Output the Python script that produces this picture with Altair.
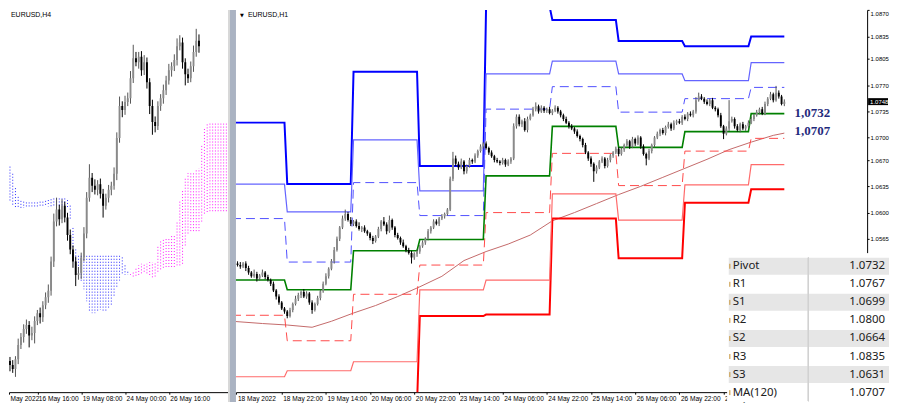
import altair as alt
import pandas as pd

# ---------------- right panel: EURUSD H1 (prices in pips over 1.0000) ----------------
h1_first_t = 6
h1_open_first = 532
h1_close = [
    530, 528, 532, 526,
    520, 515, 518, 512, 516, 520, 514, 510,
    505, 496, 488, 480, 472, 468,
    462,
    470, 478, 485, 490, 494, 488, 492, 480, 470, 478, 486,
    495, 505, 515, 525, 535,
    550, 565, 580, 592, 598,
    590, 585, 588, 582, 578, 580, 575, 572,
    566, 562, 568,
    578, 588, 584, 575, 590, 580,
    570, 566, 560, 555, 550, 546,
    540, 545, 548,
    555, 560, 565, 575, 580, 588,
    585, 592, 595, 598, 604,
    645, 672, 665,
    660, 668, 655,
    662, 670, 668, 676, 682, 688, 692,
    686, 680, 675, 670, 668,
    666, 670, 664, 668, 672,
    715, 728,
    718, 722, 710, 725, 730,
    738, 742, 735, 740, 736,
    738, 733, 736, 740, 735, 730,
    725, 720, 715, 712, 708, 702, 698,
    690, 680, 672, 665, 655, 660, 668,
    672, 662, 670, 676,
    680, 685, 678, 684,
    690, 695, 688, 698, 692, 700,
    688, 678, 672, 682, 690,
    700, 705, 710, 706, 714, 718, 712, 720, 722,
    720, 728, 725, 732, 730, 735,
    750, 755,
    752, 748, 745, 750, 740, 738,
    730, 715, 705,
    712, 722, 725,
    715, 710, 718, 712, 715, 720,
    725, 730, 734, 738, 732,
    745, 752, 758, 750, 760, 755, 745, 748,
]
h1_wick_up = [
    3, 4, 2, 3,
    3, 2, 6, 3, 2, 4, 2, 3,
    2, 3, 2, 3, 2, 2,
    2,
    3, 2, 4, 3, 2, 4, 3, 2, 3, 2, 3,
    2, 3, 4, 2, 3,
    4, 3, 2, 4, 6,
    3, 4, 2, 3, 5, 2, 3, 2,
    2, 3, 2,
    3, 2, 6, 3, 6, 2,
    2, 3, 2, 4, 2, 3,
    3, 2, 3,
    2, 3, 2, 3, 2, 3,
    3, 2, 3, 2, 2,
    3, 9, 4,
    3, 4, 2,
    2, 3, 2, 3, 2, 3, 2,
    3, 2, 3, 2, 3,
    2, 3, 2, 3, 2,
    4, 3,
    3, 2, 4, 3, 2,
    3, 5, 2, 3, 2,
    2, 3, 2, 3, 2, 2,
    2, 3, 2, 3, 2, 3, 2,
    2, 3, 2, 3, 2, 3, 2,
    3, 2, 3, 2,
    2, 3, 2, 3,
    2, 3, 2, 3, 2, 3,
    2, 3, 2, 3, 2,
    2, 3, 2, 3, 2, 3, 2, 3, 2,
    3, 2, 3, 2, 3, 2,
    4, 5,
    3, 2, 3, 2, 3, 2,
    2, 3, 2,
    3, 28, 3,
    2, 3, 2, 3, 2, 3,
    3, 2, 3, 2, 3,
    3, 2, 3, 2, 9, 3, 2, 3,
]
h1_wick_dn = [
    2, 3, 2, 4,
    3, 2, 2, 4, 3, 2, 3, 2,
    3, 2, 4, 3, 2, 3,
    3,
    2, 3, 2, 3, 4, 2, 3, 3, 5, 2, 2,
    3, 2, 2, 3, 2,
    3, 2, 3, 2, 3,
    2, 3, 3, 2, 2, 4, 2, 3,
    3, 4, 2,
    2, 3, 2, 4, 2, 3,
    3, 2, 3, 2, 3, 2,
    8, 3, 4,
    3, 2, 3, 2, 3, 2,
    2, 3, 2, 3, 2,
    2, 3, 3,
    3, 2, 4,
    3, 2, 3, 2, 3, 2, 3,
    2, 3, 2, 3, 2,
    3, 2, 3, 2, 3,
    2, 3,
    3, 4, 2, 3, 2,
    2, 3, 3, 2, 3,
    3, 2, 3, 2, 3, 3,
    3, 2, 3, 2, 3, 2, 3,
    3, 2, 3, 4, 14, 3, 2,
    2, 3, 2, 3,
    3, 2, 3, 2,
    3, 2, 3, 2, 3, 2,
    3, 2, 9, 2, 3,
    3, 2, 3, 2, 3, 2, 3, 2, 3,
    2, 3, 2, 3, 2, 3,
    3, 2,
    2, 3, 2, 3, 2, 3,
    3, 2, 7,
    2, 3, 2,
    3, 2, 3, 2, 3, 2,
    2, 3, 2, 3, 2,
    2, 3, 2, 3, 2, 3, 2, 3,
]

# daily pivot levels (day start bar index; last day runs to the last bar)
day_start = [0, 24, 48, 72, 96, 120, 144, 168, 192]
h1_last_t = 204
lvl_r3 = [720, 638, 788, 662, 875, 857, 829, 822, 835]
lvl_r2 = [638, 601, 697, 629, 785, 802, 785, 776, 800]
lvl_r1 = [592, 534, 640, 596, 738, 768, 734, 752, 767]
lvl_p = [510, 497, 549, 564, 649, 715, 687, 708, 732]
lvl_s1 = [463, 429, 491, 530, 600, 679, 636, 682, 699]
lvl_s2 = [381, 389, 401, 497, 510, 625, 590, 637, 664]
lvl_s3 = [336, 326, 344, 462, 464, 592, 539, 613, 631]

ma_t = [4, 15, 24, 33, 40, 48, 56, 64, 72, 80, 88, 96, 104, 112, 120, 128, 136, 144,
        152, 160, 168, 176, 184, 192, 200, 204]
ma_val = [455, 452, 450, 447, 455, 466, 476, 488, 501, 515, 536, 548, 558, 570, 589, 600,
          612, 624, 635, 647, 659, 671, 684, 694, 703, 706]

time_tick_t = [5.6, 22, 38, 54, 70, 86, 102, 118, 134, 150, 166, 182]
time_tick_lbl = ["18 May 2022", "18 May 22:00", "19 May 14:00", "20 May 06:00", "20 May 22:00",
                 "23 May 14:00", "24 May 06:00", "24 May 22:00", "25 May 14:00", "26 May 06:00",
                 "26 May 22:00", "27 May 14:00"]
price_ticks = [1.0870, 1.0835, 1.0805, 1.0770, 1.0735, 1.0700, 1.0670, 1.0635, 1.0600, 1.0565]
last_price = [1.0748]

note_vals = [1.0732, 1.0707]
note_lbls = ["1,0732", "1,0707"]
note_t = [207.7, 207.7]

table_rows = ["Pivot", "R1", "S1", "R2", "S2", "R3", "S3", "MA(120)"]
table_vals = [1.0732, 1.0767, 1.0699, 1.0800, 1.0664, 1.0835, 1.0631, 1.0707]
table_shade = ["g", "w", "g", "w", "g", "w", "g", "w"]

# ---------------- left panel: EURUSD H4 with Ichimoku cloud ----------------
h4_first_s = -6
h4_open_first = 370
h4_close = [365, 360, 372, 390, 400, 410,
            415, 402, 405, 420, 430, 425, 440, 450, 458, 495,
            545, 560, 548, 565, 550, 528, 510, 495, 478, 480,
            500, 530, 575, 600, 590, 585, 592, 580, 565, 575,
            585, 590, 605, 650, 690, 685, 695, 700, 725, 750,
            745, 752, 735, 745, 720, 690, 670, 665, 690, 700,
            710, 722, 735, 740, 748, 765, 770, 745, 730, 725,
            740, 758, 772, 765]
h4_wick_up = [5, 6, 4, 8, 5, 6,
              7, 5, 8, 6, 4, 7, 5, 6, 8, 6,
              10, 15, 6, 8, 5, 6, 7, 5, 6, 8,
              6, 8, 7, 17, 6, 8, 5, 7, 6, 5,
              6, 5, 8, 7, 12, 6, 8, 7, 9, 17,
              8, 6, 7, 9, 6, 5, 8, 7, 6, 5,
              7, 6, 8, 5, 7, 10, 9, 6, 5, 7,
              6, 8, 15, 8]
h4_wick_dn = [8, 5, 10, 6, 5, 7,
              6, 15, 6, 13, 5, 8, 6, 5, 7, 6,
              7, 6, 8, 5, 6, 7, 6, 8, 14, 6,
              7, 5, 6, 5, 8, 6, 7, 6, 15, 5,
              6, 7, 5, 8, 6, 9, 6, 5, 7, 6,
              5, 8, 7, 6, 8, 10, 16, 8, 5, 6,
              7, 6, 5, 8, 6, 7, 5, 8, 14, 6,
              5, 7, 6, 8]

cloud_first_s = -6
span_a = [614, 605, 587, 576, 571, 570,
          569, 569, 569, 569, 569, 570, 570, 571, 572, 573,
          574, 574, 574, 574, 574, 572, 565, 537, 510, 502,
          502, 502, 502, 502, 502, 502, 502, 502, 502, 502,
          502, 502, 502, 502, 502, 500, 490, 482, 478, 476,
          477, 478, 480, 482, 480, 478, 475, 476, 482, 485,
          487, 488, 488, 488, 488, 490, 490, 492, 515, 530,
          533, 533, 533, 533, 545, 555, 557, 558, 558, 558,
          558, 558, 558, 558, 558]
span_b = [569, 566, 562, 562, 562, 562,
          562, 562, 563, 563, 563, 563, 564, 564, 564, 564,
          565, 564, 564, 564, 563, 562, 548, 512, 490, 478,
          470, 460, 445, 432, 430, 430, 432, 434, 431, 433,
          436, 440, 450, 462, 471, 478, 478, 478, 479, 483,
          487, 490, 492, 492, 492, 494, 494, 494, 515, 521,
          523, 523, 525, 527, 527, 545, 570, 585, 600, 606,
          608, 608, 610, 612, 640, 662, 668, 668, 668, 670,
          670, 670, 670, 670, 670]

h4_tick_s = [-6.36, 4, 20, 36, 52]
h4_tick_lbl = ["May 2022", "16 May 16:00", "19 May 08:00", "24 May 00:00", "26 May 16:00"]

# ---------------- build tables ----------------
def px(p):
    return 1 + p / 10000.0


def candles(first, open_first, closes, ups, dns, key):
    out = []
    prev = open_first
    for i, (c, u, d) in enumerate(zip(closes, ups, dns)):
        o = prev
        out.append({key: first + i, "open": px(o), "close": px(c),
                    "high": px(max(o, c) + u), "low": px(min(o, c) - d),
                    "dir": "up" if c >= o else "down"})
        prev = c
    return pd.DataFrame(out)


h1 = candles(h1_first_t, h1_open_first, h1_close, h1_wick_up, h1_wick_dn, "t")
h4 = candles(h4_first_s, h4_open_first, h4_close, h4_wick_up, h4_wick_dn, "s")


def level_df(vals):
    pts = []
    for k, v in enumerate(vals):
        start = day_start[k] if k > 0 else 4
        end = day_start[k + 1] - 1 if k + 1 < len(day_start) else h1_last_t
        pts.append({"t": start, "price": px(v)})
        pts.append({"t": end, "price": px(v)})
    return pd.DataFrame(pts)


ma_df = pd.DataFrame({"t": ma_t, "price": [px(v) for v in ma_val]})
note_df = pd.DataFrame({"t": note_t, "price": note_vals, "lbl": note_lbls})
last_df = pd.DataFrame({"price": last_price, "lbl": ["%.4f" % v for v in last_price]})
table_df = pd.DataFrame({"row": table_rows, "val": table_vals, "shade": table_shade})
cloud_df = pd.DataFrame({
    "s": [cloud_first_s + i for i in range(len(span_a))],
    "a": [px(v) for v in span_a],
    "b": [px(v) for v in span_b],
    "kind": ["bull" if a >= b else "bear" for a, b in zip(span_a, span_b)],
})

LW, LH = 220, 384
RW, RH = 634, 384
AX_FONT = "Liberation Sans"
PX_PER_BAR = 2.774
T_LEFT = 5.43


def lookup_expr(vals, lbls):
    arr_v = "[" + ",".join(repr(v) for v in vals) + "]"
    arr_l = "[" + ",".join("'%s'" % s for s in lbls) + "]"
    return "%s[indexof(%s, datum.value)]" % (arr_l, arr_v)


def up_color(up_col, down_col):
    return alt.condition(alt.datum.dir == "up", alt.value(up_col), alt.value(down_col))


# ---------------- right panel ----------------
x_axis_r = alt.Axis(values=time_tick_t, labelExpr=lookup_expr(time_tick_t, time_tick_lbl),
                    labelAlign="left", labelOffset=1, labelFlush=False, labelOverlap=False,
                    labelFont=AX_FONT, labelFontSize=6.6, labelColor="black", labelPadding=1,
                    labelBaseline="top",
                    tickSize=2, tickColor="black", domainColor="black", grid=False, title=None)
y_axis_r = alt.Axis(orient="right", values=price_ticks, format=".4f", labelFont=AX_FONT,
                    labelFontSize=6.0, labelColor="black", labelPadding=1, tickSize=2,
                    labelBaseline={"condition": {"test": "datum.value > 1.0869", "value": "top"},
                                   "value": "middle"},
                    tickColor="black", domainColor="black", grid=False, title=None,
                    labelOverlap=False, labelFlush=False)
x_scale_r = alt.Scale(domain=[T_LEFT, T_LEFT + RW / PX_PER_BAR], nice=False, zero=False)
y_scale_r = alt.Scale(domain=[1.08704 - RH / 7530.0, 1.08704], nice=False, zero=False)


def XR(f):
    return alt.X(f, scale=x_scale_r, axis=x_axis_r)


def YR(f):
    return alt.Y(f, scale=y_scale_r, axis=y_axis_r)


styles = [
    (lvl_r3, "#0000ff", 2.0, None),
    (lvl_r2, "#6464ff", 1.2, None),
    (lvl_r1, "#5050ff", 1.0, [9, 5]),
    (lvl_s3, "#ff0000", 2.0, None),
    (lvl_s2, "#ff6b6b", 1.2, None),
    (lvl_s1, "#ff4a4a", 1.0, [9, 5]),
    (lvl_p, "#008000", 1.6, None),
]
main_layers = []
main_layers.append(alt.Chart(ma_df).mark_line(clip=True, color="#c46a6a", strokeWidth=1)
                   .encode(x=XR("t:Q"), y=YR("price:Q")))
for vals, col, w, dash in styles:
    kw = dict(clip=True, color=col, strokeWidth=w)
    if dash:
        kw["strokeDash"] = dash
    main_layers.append(alt.Chart(level_df(vals)).mark_line(**kw)
                       .encode(x=XR("t:Q"), y=YR("price:Q")))
main_layers.append(alt.Chart(h1).mark_rule(clip=True, strokeWidth=1)
                   .encode(x=XR("t:Q"), y=YR("low:Q"), y2="high:Q", color=up_color("#555555", "#000000")))
main_layers.append(alt.Chart(h1).mark_rule(clip=True, strokeWidth=1.9)
                   .encode(x=XR("t:Q"), y=YR("open:Q"), y2="close:Q", color=up_color("#8a8a8a", "#000000")))
main_layers.append(alt.Chart(note_df).mark_text(align="left", baseline="middle", font="Liberation Serif",
                                                fontWeight="bold", fontSize=13, color="#1f2a7c", dy=-1)
                   .encode(x=XR("t:Q"), y=YR("price:Q"), text="lbl:N"))
main_layers.append(alt.Chart(last_df).mark_rule(color="black", strokeWidth=7)
                   .encode(x=alt.value(RW + 1), x2=alt.value(RW + 21), y=YR("price:Q")))
main_layers.append(alt.Chart(last_df).mark_text(align="left", baseline="middle", color="white",
                                                font=AX_FONT, fontSize=6.0)
                   .encode(x=alt.value(RW + 3), y=YR("price:Q"), text="lbl:N"))
main_layers.append(alt.Chart(last_df).mark_text(align="left", baseline="middle", font=AX_FONT,
                                                fontSize=7, color="black")
                   .encode(x=alt.value(12), y=alt.value(5), text=alt.value("EURUSD,H1")))
main_layers.append(alt.Chart(last_df).mark_text(align="left", baseline="middle", font="DejaVu Sans",
                                                fontSize=5, color="black")
                   .encode(x=alt.value(4), y=alt.value(5), text=alt.value("▼")))
main = alt.layer(*main_layers)

TAB_X0, TAB_X1, TAB_DIV = 495, 656, 575
TAB_Y0, TAB_Y1 = 249, 393
row_scale = alt.Scale(domain=table_rows, range=[TAB_Y0, TAB_Y1], paddingInner=0.06, paddingOuter=0)
YT = alt.Y("row:N", scale=row_scale, axis=None, sort=None)
tab_layers = [
    alt.Chart(table_df).mark_rect(color="white")
    .encode(x=alt.value(TAB_X0 - 1), x2=alt.value(TAB_X1), y=alt.value(TAB_Y0 - 4), y2=alt.value(TAB_Y1 + 1)),
    alt.Chart(table_df).mark_rect()
    .encode(y=YT, x=alt.value(TAB_X0), x2=alt.value(TAB_X1),
            color=alt.condition(alt.datum.shade == "g", alt.value("#e6e6e6"), alt.value("#ffffff"))),
    alt.Chart(table_df).mark_rule(color="#d2d2d2")
    .encode(x=alt.value(TAB_DIV), y=alt.value(TAB_Y0), y2=alt.value(TAB_Y1)),
    alt.Chart(table_df).mark_tick(orient="vertical", size=5, thickness=1.5, color="#c8963c")
    .encode(x=alt.value(TAB_X0 + 1), y=YT),
    alt.Chart(table_df).mark_text(align="left", baseline="middle", font="Noto Sans", fontSize=11.5,
                                  color="#202020")
    .encode(x=alt.value(TAB_X0 + 4), y=YT, text="row:N"),
    alt.Chart(table_df).mark_text(align="right", baseline="middle", font="Noto Sans", fontSize=11.5,
                                  color="#202020")
    .encode(x=alt.value(TAB_X1 - 4), y=YT, text=alt.Text("val:Q", format=".4f")),
]
table = alt.layer(*tab_layers)

right = alt.layer(main, table).resolve_scale(x="independent", y="independent").properties(
    width=RW, height=RH)

# ---------------- left panel ----------------
x_axis_l = alt.Axis(values=h4_tick_s, labelExpr=lookup_expr(h4_tick_s, h4_tick_lbl),
                    labelAlign="left", labelOffset=1, labelFlush=False, labelOverlap=False,
                    labelFont=AX_FONT, labelFontSize=6.6, labelColor="black", labelPadding=1,
                    labelBaseline="top",
                    tickSize=2, tickColor="black", domainColor="black", grid=False, title=None)
x_scale_l = alt.Scale(domain=[-6.36, 73.6], nice=False, zero=False)
y_scale_l = alt.Scale(domain=[1.08108 - LH / 8000.0, 1.08108], nice=False, zero=False)


def XL(f):
    return alt.X(f, scale=x_scale_l, axis=x_axis_l)


def YL(f):
    return alt.Y(f, scale=y_scale_l, axis=None)


left = alt.layer(
    alt.Chart(cloud_df).mark_rule(clip=True, strokeWidth=1, strokeDash=[1, 2])
    .encode(x=XL("s:Q"), y=YL("a:Q"), y2="b:Q",
            color=alt.condition(alt.datum.kind == "bull", alt.value("#2a2aff"), alt.value("#ff1aff"))),
    alt.Chart(h4).mark_rule(clip=True, strokeWidth=1)
    .encode(x=XL("s:Q"), y=YL("low:Q"), y2="high:Q", color=up_color("#555555", "#000000")),
    alt.Chart(h4).mark_rule(clip=True, strokeWidth=1.9)
    .encode(x=XL("s:Q"), y=YL("open:Q"), y2="close:Q", color=up_color("#8a8a8a", "#000000")),
    alt.Chart(last_df).mark_text(align="left", baseline="middle", font=AX_FONT, fontSize=7, color="black")
    .encode(x=alt.value(2), y=alt.value(5), text=alt.value("EURUSD,H4")),
    alt.Chart(last_df).mark_rect(color="#d8d8d8")
    .encode(x=alt.value(LW), x2=alt.value(LW + 2), y=alt.value(0), y2=alt.value(LH + 10)),
    alt.Chart(last_df).mark_rect(color="#aab3c2")
    .encode(x=alt.value(LW + 2), x2=alt.value(LW + 8), y=alt.value(0), y2=alt.value(LH + 10)),
).properties(width=LW, height=LH)

chart = alt.hconcat(left, right, spacing=8, bounds="flush", padding=0,
                    background="white").configure_view(stroke=None)

chart.save("out.html", embed_options={"renderer": "svg", "actions": False})
